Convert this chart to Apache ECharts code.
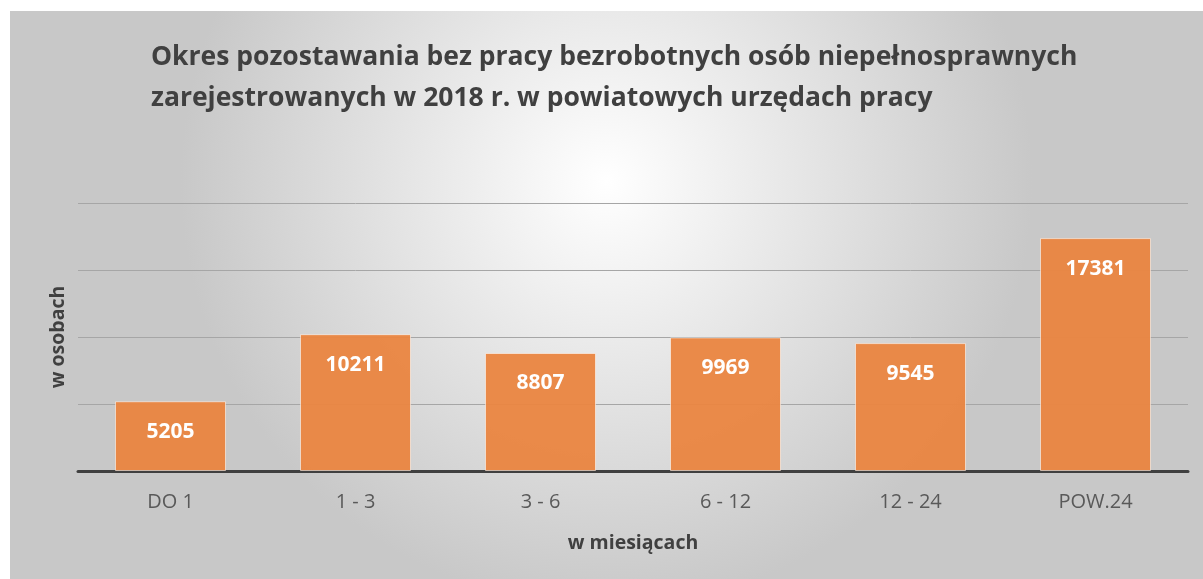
<!DOCTYPE html>
<html>
<head>
<meta charset="utf-8">
<script src="https://cdn.jsdelivr.net/npm/echarts@6/dist/echarts.min.js"></script>
<style>
  html, body { margin: 0; padding: 0; background: #fff; }
  #chart { position: absolute; left: 10px; top: 11px; width: 1193px; height: 568px; }
</style>
</head>
<body>
<div id="chart"></div>
<script>
// dane
const categories = ["DO 1", "1 - 3", "3 - 6", "6 - 12", "12 - 24", "POW.24"];
const values = [5205, 10211, 8807, 9969, 9545, 17381];
const yMax = 20000;
const yStep = 5000;

const font = "'Open Sans', sans-serif";

let myChart = echarts.init(document.getElementById("chart"));
myChart.setOption({
  animation: false,
  backgroundColor: {
    type: "radial",
    x: 0.5,
    y: 0.3,
    r: 0.75,
    colorStops: [
      { offset: 0, color: "#ffffff" },
      { offset: 1, color: "#c8c8c8" },
    ],
  },
  title: {
    text: "Okres pozostawania bez pracy bezrobotnych osób niepełnosprawnych\nzarejestrowanych w 2018 r. w powiatowych urzędach pracy",
    left: 136,
    top: 21,
    textStyle: {
      fontFamily: font,
      fontWeight: "bold",
      fontSize: 26.5,
      lineHeight: 41,
      color: "#404040",
    },
  },
  grid: {
    left: 68,
    right: 15,
    top: 192,
    bottom: 108,
  },
  xAxis: {
    type: "category",
    data: categories,
    name: "w miesiącach",
    nameLocation: "middle",
    nameGap: 62,
    nameTextStyle: {
      fontFamily: font,
      fontWeight: "bold",
      fontSize: 19.5,
      color: "#404040",
    },
    axisTick: { show: false },
    axisLine: {
      show: true,
      lineStyle: { color: "#404040", width: 3 },
    },
    axisLabel: {
      fontFamily: font,
      fontSize: 20,
      color: "#595959",
      margin: 21,
    },
  },
  yAxis: {
    type: "value",
    min: 0,
    max: yMax,
    interval: yStep,
    name: "w osobach",
    nameLocation: "middle",
    nameGap: 10,
    nameRotate: 90,
    nameTextStyle: {
      fontFamily: font,
      fontWeight: "bold",
      fontSize: 19.5,
      color: "#404040",
    },
    axisLabel: { show: false },
    axisLine: { show: false },
    axisTick: { show: false },
    splitLine: {
      lineStyle: { color: "#a6a6a6", width: 1 },
    },
  },
  series: [
    {
      name: "osoby",
      type: "bar",
      barWidth: "60%",
      data: values,
      itemStyle: {
        color: "rgba(234,133,64,0.95)",
        borderColor: "rgba(255,255,255,0.55)",
        borderWidth: 1,
      },
      label: {
        show: true,
        position: "insideTop",
        distance: 20,
        fontFamily: font,
        fontWeight: "bold",
        fontSize: 21,
        color: "#ffffff",
      },
    },
  ],
});
</script>
</body>
</html>
